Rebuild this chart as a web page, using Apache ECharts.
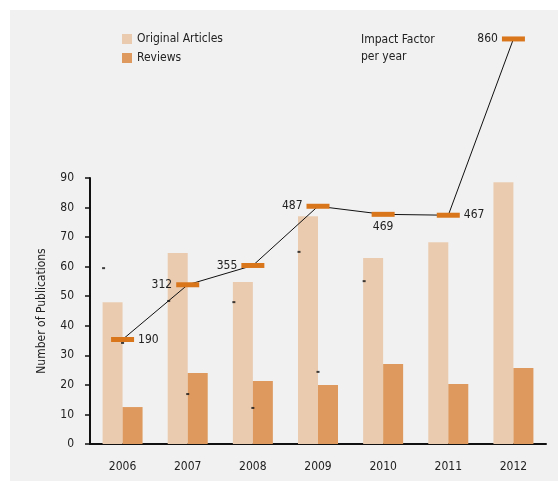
<!DOCTYPE html>
<html><head><meta charset="utf-8">
<script src="https://cdn.jsdelivr.net/npm/echarts@6/dist/echarts.min.js"></script>
<style>html,body{margin:0;padding:0;background:#fff}#c{width:558px;height:483px}</style>
</head><body><div id="c"></div>
<script>
var years = ['2006','2007','2008','2009','2010','2011','2012'];
var originalArticles = [48, 64.6, 54.8, 77.1, 62.9, 68.3, 88.6];
var reviews = [12.5, 24.0, 21.3, 20.0, 27.1, 20.3, 25.7];
var impactFactor = [190, 312, 355, 487, 469, 467, 860];
var impactLabelPos = ['right','left','left','left','bottom','right','left'];
var marksLeft = [59.5, 48.4, 48.0, 65.0, 55.1, null, null];
var marksCenter = [34.2, 16.9, 12.2, 24.4, null, null, null];
var yTicks = {min: 0, max: 90, interval: 10};

var FONT = '"DejaVu Sans Condensed", "Liberation Sans Narrow", Roboto, sans-serif';
var FS = 12;
var chart = echarts.init(document.getElementById('c'));
chart.setOption({
  animation: false,
  backgroundColor: '#ffffff',
  textStyle: {fontFamily: FONT, color: '#222'},
  graphic: [
    {type: 'rect', z: -10, shape: {x: 10, y: 10, width: 548, height: 471}, style: {fill: '#f1f1f1'}},
    {type: 'text', left: 361, top: 31, style: {text: 'Impact Factor\nper year', font: FS + 'px ' + FONT, fill: '#222', lineHeight: 17}}
  ],
  legend: {
    orient: 'vertical', left: 117, top: 28, itemWidth: 10, itemHeight: 10, itemGap: 7,
    icon: 'rect',
    textStyle: {fontFamily: FONT, fontSize: FS, color: '#222'},
    data: ['Original Articles', 'Reviews']
  },
  grid: {left: 90, right: 12, top: 178, bottom: 39},
  xAxis: {
    type: 'category', data: years,
    axisLine: {lineStyle: {color: '#111', width: 2}},
    axisTick: {length: 5, lineStyle: {color: '#111', width: 1.5}},
    axisLabel: {fontFamily: FONT, fontSize: FS, color: '#222', margin: 17}
  },
  yAxis: [{
    type: 'value', min: yTicks.min, max: yTicks.max, interval: yTicks.interval,
    name: 'Number of Publications', nameLocation: 'middle', nameGap: 42, nameRotate: 90,
    nameTextStyle: {fontFamily: FONT, fontSize: FS, color: '#222'},
    axisLine: {show: true, lineStyle: {color: '#111', width: 2}},
    axisTick: {show: true, length: 5, lineStyle: {color: '#111', width: 1.5}},
    axisLabel: {fontFamily: FONT, fontSize: FS, color: '#222', margin: 16},
    splitLine: {show: false}
  }, {
    type: 'value', min: -43, max: 550, show: false, splitLine: {show: false}
  }],
  series: [
    {name: 'Original Articles', type: 'bar', data: originalArticles, barWidth: 20, barGap: '0%',
     itemStyle: {color: '#eacbb0'}},
    {name: 'Reviews', type: 'bar', data: reviews, barWidth: 20,
     itemStyle: {color: '#de9a5e'}},
    {name: 'marksA', type: 'scatter', data: marksLeft, symbol: 'rect', symbolSize: [3, 2],
     symbolOffset: [-19, 0], itemStyle: {color: '#111'}, z: 5},
    {name: 'marksB', type: 'scatter', data: marksCenter, symbol: 'rect', symbolSize: [3, 2],
     itemStyle: {color: '#111'}, z: 5},
    {name: 'Impact Factor', type: 'line', yAxisIndex: 1, clip: false, z: 10,
     data: impactFactor.map(function (v, i) {
       return {value: v, label: {position: impactLabelPos[i], distance: 4}};
     }),
     symbol: 'rect', symbolSize: [23, 5],
     itemStyle: {color: '#d9761c'},
     lineStyle: {color: '#111', width: 1},
     label: {show: true, fontFamily: FONT, fontSize: FS, color: '#222'}
    }
  ]
});
</script></body></html>
